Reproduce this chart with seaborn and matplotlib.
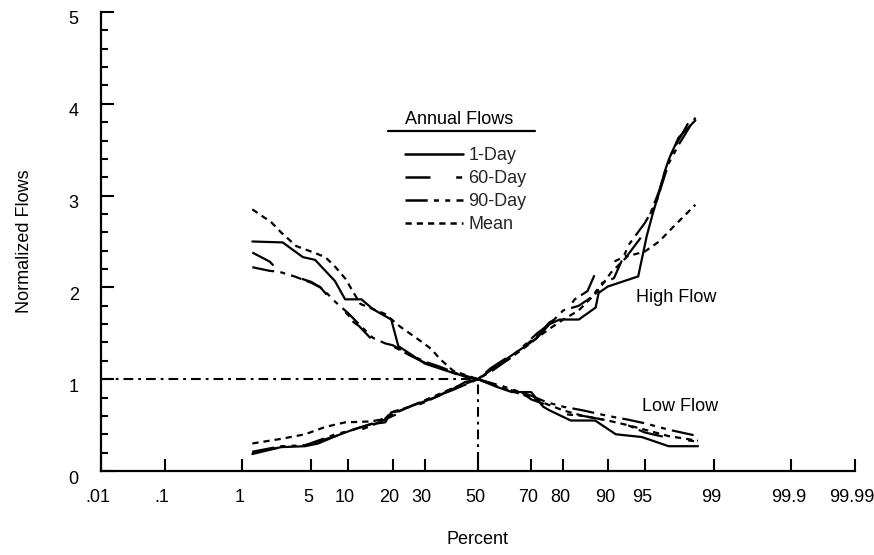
import numpy as np
import pandas as pd
import seaborn as sns
import matplotlib
matplotlib.use("Agg")
import matplotlib.pyplot as plt
from matplotlib.lines import Line2D
from matplotlib.transforms import ScaledTranslation
from statistics import NormalDist

# ---------------- data ----------------
tick_pct = [0.01, 0.1, 1, 5, 10, 20, 30, 50, 70, 80, 90, 95, 99, 99.9, 99.99]
tick_labels = ['.01', '.1', '1', '5', '10', '20', '30', '50', '70', '80', '90',
               '95', '99', '99.9', '99.99']
series_names = ['1-Day', '60-Day', '90-Day', 'Mean']

# High flow (increasing curves)
high_1day_pct = [1.3, 2.6, 4.4, 5.75, 8, 11.3, 14.6, 18, 19.6, 21.6, 25.6, 30, 35, 40, 45, 50,
                 55, 60, 65, 68, 72, 76, 79, 84, 87.7, 88.3, 90, 94.3, 95.2, 95.8, 96.3,
                 96.7, 97.0, 97.6, 98.4]
high_1day_val = [0.185, 0.26, 0.27, 0.30, 0.38, 0.46, 0.51, 0.53, 0.64, 0.65, 0.71, 0.76, 0.82,
                 0.89, 0.97, 1.0, 1.1, 1.2, 1.3, 1.36, 1.45, 1.6, 1.65, 1.65, 1.78, 1.94, 2.01,
                 2.12, 2.56, 2.82, 3.03, 3.25, 3.39, 3.63, 3.82]
high_60day_pct = [1.3, 2.6, 4.4, 6, 8, 11, 15, 20, 25, 30, 35, 40, 45, 50, 55, 62, 68, 72, 76,
                  80, 83, 86, 88, 90, 93, 95, 95.6, 96.3, 97, 97.6, 98.4]
high_60day_val = [0.20, 0.26, 0.28, 0.33, 0.38, 0.42, 0.50, 0.60, 0.68, 0.75, 0.82, 0.90, 0.95,
                  1.0, 1.12, 1.25, 1.37, 1.47, 1.62, 1.70, 1.87, 1.96, 2.2, 2.25, 2.35, 2.6,
                  2.82, 3.05, 3.4, 3.6, 3.93]
high_90day_pct = [1.3, 2.6, 4.4, 6, 8, 11, 15, 20, 25, 30, 40, 50, 56, 62, 68, 72, 76, 80, 84,
                  87, 89, 91, 93.2, 95, 96, 97, 97.6, 98.4]
high_90day_val = [0.21, 0.27, 0.28, 0.34, 0.40, 0.45, 0.52, 0.62, 0.70, 0.77, 0.88, 1.0, 1.1,
                  1.22, 1.38, 1.50, 1.60, 1.75, 1.80, 1.90, 2.05, 2.1, 2.47, 2.7, 2.9, 3.35,
                  3.55, 3.85]
high_mean_pct = [1.3, 2.6, 4.4, 6.6, 9.5, 14.6, 18, 19.6, 25, 30, 40, 50, 55, 62, 68, 72, 76,
                 80, 84, 88, 90.5, 93, 95, 96.3, 97.3, 98.4]
high_mean_val = [0.30, 0.35, 0.40, 0.48, 0.53, 0.54, 0.57, 0.64, 0.70, 0.77, 0.90, 1.0, 1.1,
                 1.22, 1.35, 1.45, 1.55, 1.65, 1.75, 1.95, 2.16, 2.34, 2.39, 2.5, 2.66, 2.9]

# Low flow (decreasing curves)
low_1day_pct = [1.3, 2.7, 4.2, 5.4, 7.9, 9.5, 12.5, 15.1, 19.6, 21.6, 25, 30, 38, 46, 50, 57,
                63, 70, 74, 76, 82, 87.6, 91.3, 94.7, 97, 98.5]
low_1day_val = [2.5, 2.49, 2.33, 2.30, 2.07, 1.87, 1.87, 1.76, 1.65, 1.36, 1.28, 1.17, 1.09,
                1.02, 1.0, 0.92, 0.86, 0.86, 0.70, 0.66, 0.55, 0.55, 0.40, 0.37, 0.27, 0.27]
low_60day_pct = [1.3, 2.0, 2.5, 3.5, 5, 6, 7, 8, 10, 11, 12, 15, 18, 20, 25, 30, 35, 42, 50,
                 60, 67, 70, 75, 80, 85, 90, 93, 95, 97, 98.5]
low_60day_val = [2.38, 2.28, 2.17, 2.12, 2.05, 2.0, 1.9, 1.84, 1.7, 1.62, 1.58, 1.42, 1.38,
                 1.36, 1.26, 1.18, 1.13, 1.05, 1.0, 0.9, 0.85, 0.78, 0.72, 0.62, 0.6, 0.55,
                 0.5, 0.42, 0.36, 0.32]
low_90day_pct = [1.3, 2.0, 2.5, 3.5, 5, 6, 7, 8, 10, 12, 15, 18, 20, 25, 30, 35, 42, 50, 60,
                 70, 75, 80, 85, 90, 93, 95, 97, 98.5]
low_90day_val = [2.22, 2.18, 2.17, 2.12, 2.06, 2.0, 1.92, 1.84, 1.72, 1.6, 1.45, 1.39, 1.37,
                 1.27, 1.19, 1.14, 1.06, 1.0, 0.92, 0.82, 0.75, 0.70, 0.66, 0.6, 0.56, 0.52,
                 0.45, 0.38]
low_mean_pct = [1.3, 2.07, 2.6, 3.65, 5.0, 6.6, 8.0, 9.6, 10.9, 12.3, 18, 22.2, 28.8, 32.2,
                35.4, 40.4, 50, 60, 70, 75, 80, 85, 90, 93, 95, 97, 98.5]
low_mean_val = [2.85, 2.71, 2.6, 2.45, 2.39, 2.33, 2.22, 2.09, 1.95, 1.82, 1.71, 1.57, 1.41,
                1.33, 1.22, 1.09, 1.0, 0.9, 0.8, 0.73, 0.66, 0.6, 0.55, 0.5, 0.45, 0.38, 0.33]

# reference cross-hair at 50 % / 1.0
ref_pct = [0.01, 50, 50]
ref_val = [1.0, 1.0, 0.0]

# ---------------- build table ----------------
rows = []
def add(flow, name, xs, ys):
    for x, y in zip(xs, ys):
        rows.append({'pct': x, 'value': y, 'series': name, 'flow': flow})

add('High', '1-Day', high_1day_pct, high_1day_val)
add('High', '60-Day', high_60day_pct, high_60day_val)
add('High', '90-Day', high_90day_pct, high_90day_val)
add('High', 'Mean', high_mean_pct, high_mean_val)
add('Low', '1-Day', low_1day_pct, low_1day_val)
add('Low', '60-Day', low_60day_pct, low_60day_val)
add('Low', '90-Day', low_90day_pct, low_90day_val)
add('Low', 'Mean', low_mean_pct, low_mean_val)
df = pd.DataFrame(rows)

# ---------------- style ----------------
sns.set_theme(style='ticks')
plt.rcParams['font.family'] = ['Liberation Sans', 'DejaVu Sans']
plt.rcParams['lines.scale_dashes'] = False
FS = 13

dash_map = {
    '1-Day': '',
    '60-Day': (18, 18.5, 4.3, 4),
    '90-Day': (16, 4.5, 3.6, 4.5, 3.6, 4.5),
    'Mean': (4.5, 3.6),
}

fig = plt.figure(figsize=(8.74, 5.55), dpi=100)
ax = fig.add_axes([101 / 874, 1 - 471 / 555, (855 - 101) / 874, (471 - 12) / 555])

ND = NormalDist()
_ppf = np.vectorize(ND.inv_cdf, otypes=[float])
_cdf = np.vectorize(ND.cdf, otypes=[float])

def fwd(p):
    p = np.clip(np.asarray(p, dtype=float), 1e-7, 100 - 1e-7)
    return _ppf(p / 100.0)

def inv(z):
    return _cdf(np.asarray(z, dtype=float)) * 100.0

sns.lineplot(data=df, x='pct', y='value', style='series', units='flow', estimator=None,
             sort=False, color='black', dashes=dash_map, linewidth=1.6, legend=False, ax=ax)

ax.plot(ref_pct, ref_val, color='black', lw=1.5, dashes=(7, 3.6, 2, 3.6))

ax.set_xscale('function', functions=(fwd, inv))
ax.set_xlim(0.01, 99.99)
ax.set_ylim(0, 5)
ax.set_xticks(tick_pct)
ax.set_xticklabels(tick_labels)
ax.xaxis.set_minor_locator(matplotlib.ticker.NullLocator())
ax.set_yticks([0, 1, 2, 3, 4, 5])
ax.set_yticks(np.arange(0, 5.01, 0.2), minor=True)

for s in ['top', 'right']:
    ax.spines[s].set_visible(False)
for s in ['left', 'bottom']:
    ax.spines[s].set_linewidth(1.6)
    ax.spines[s].set_color('black')

ax.tick_params(axis='both', which='major', direction='in', length=9, width=1.5,
               color='black', labelsize=FS, labelcolor='black')
ax.tick_params(axis='y', which='minor', direction='in', length=5, width=1.5, color='black')
ax.tick_params(axis='x', which='major', pad=13)
ax.tick_params(axis='y', which='major', pad=16)

off = ScaledTranslation(0, -0.06, fig.dpi_scale_trans)
for lab in ax.get_yticklabels():
    lab.set_transform(lab.get_transform() + off)
offx = ScaledTranslation(-0.03, 0, fig.dpi_scale_trans)
for lab in ax.get_xticklabels():
    lab.set_transform(lab.get_transform() + offx)

ax.set_xlabel('Percent', fontsize=FS, color='black')
ax.set_ylabel('Normalized Flows', fontsize=FS, color='black')
ax.xaxis.set_label_coords((477 - 101) / 754, (471 - 531) / 459)
ax.yaxis.set_label_coords((33 - 101) / 754, 0.5)

ax.text(97.5, 1.89, 'High Flow', ha='center', va='center', fontsize=FS, color='black')
ax.text(97.7, 0.70, 'Low Flow', ha='center', va='center', fontsize=FS, color='black')

# legend
fig.text(459 / 874, 1 - 119 / 555, 'Annual Flows', ha='center', va='center',
         fontsize=FS, color='black')
fig.add_artist(Line2D([388 / 874, 535 / 874], [1 - 131 / 555, 1 - 131 / 555],
                      transform=fig.transFigure, color='black', lw=1.6))
handles = []
for name in series_names:
    d = dash_map[name]
    if d == '':
        handles.append(Line2D([], [], color='black', lw=1.8, linestyle='-'))
    else:
        handles.append(Line2D([], [], color='black', lw=1.8, dashes=d))
ax.legend(handles, series_names, loc='upper left',
          bbox_to_anchor=(405 / 874, 1 - 147 / 555), bbox_transform=fig.transFigure,
          frameon=False, borderpad=0, borderaxespad=0, handlelength=3.2,
          handletextpad=0.3, labelspacing=0.33, fontsize=FS)

fig.savefig('out.png', dpi=100)
